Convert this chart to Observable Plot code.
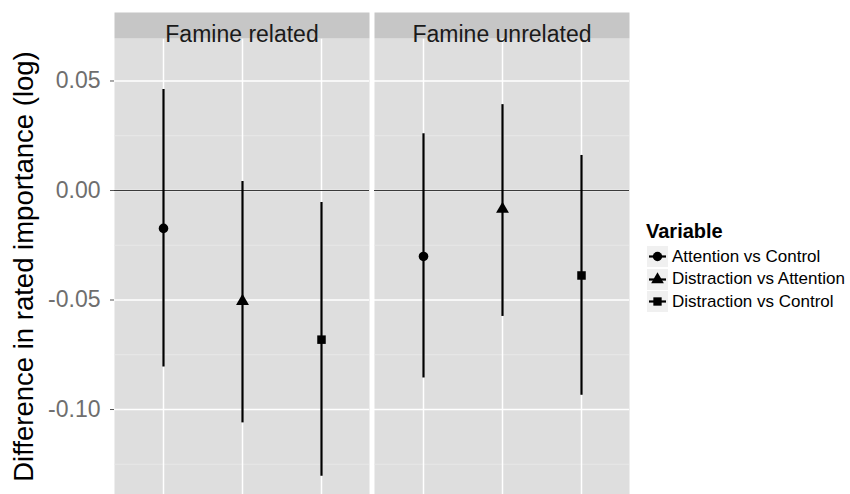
<!DOCTYPE html>
<html><head><meta charset="utf-8">
<script src="https://cdn.jsdelivr.net/npm/d3@7"></script>
<script src="https://cdn.jsdelivr.net/npm/@observablehq/plot@0.6"></script>
<style>
body{margin:0;background:#fff;font-family:"Liberation Sans",Arial,Helvetica,sans-serif;}
#wrap{position:relative;width:850px;height:494px;overflow:hidden;}
.lg{position:absolute;white-space:nowrap;color:#000;}
</style></head><body><div id="wrap"></div>
<script>
// ---- data ----
const panels = ["Famine related", "Famine unrelated"];
const variables = ["Attention vs Control", "Distraction vs Attention", "Distraction vs Control"];
const symbols = ["circle", "triangle", "square"];
const estRelated = [-0.0173, -0.0506, -0.0681];
const lowRelated = [-0.0806, -0.1061, -0.1305];
const highRelated = [0.0461, 0.0041, -0.0055];
const estUnrelated = [-0.0301, -0.0085, -0.0388];
const lowUnrelated = [-0.0856, -0.0575, -0.0935];
const highUnrelated = [0.0259, 0.0392, 0.0160];
const yTicks = [-0.10, -0.05, 0.00, 0.05];
const yMinorTicks = [-0.125, -0.075, -0.025, 0.025];
const yDomain = [-0.1388, 0.0694];
const yLabel = "Difference in rated importance (log)";
const legendTitle = "Variable";

const est = [estRelated, estUnrelated];
const low = [lowRelated, lowUnrelated];
const high = [highRelated, highUnrelated];
const rows = [];
panels.forEach((p, i) => variables.forEach((v, j) => rows.push({
  panel: p, variable: v, est: est[i][j], lo: low[i][j], hi: high[i][j]
})));

const font = "'Liberation Sans', Arial, Helvetica, sans-serif";

const chart = Plot.plot({
  width: 850, height: 494,
  marginTop: 38, marginBottom: 0, marginLeft: 114, marginRight: 220,
  style: {fontFamily: font, background: "white", overflow: "visible"},
  fx: {domain: panels, paddingInner: 0.0192, paddingOuter: 0, axis: null, label: null},
  x: {type: "point", domain: variables, padding: 0.6, axis: null},
  y: {domain: yDomain, axis: null},
  symbol: {domain: variables, range: symbols},
  marks: [
    Plot.frame({fill: "#dedede"}),
    Plot.gridY(yMinorTicks, {stroke: "#ebebeb", strokeOpacity: 1, strokeWidth: 0.8}),
    Plot.gridY(yTicks, {stroke: "white", strokeOpacity: 1, strokeWidth: 1.5}),
    Plot.gridX({stroke: "white", strokeOpacity: 1, strokeWidth: 1.5}),
    Plot.ruleY([0], {stroke: "#3a3a3a", strokeWidth: 1}),
    Plot.frame({fill: "#c6c6c6", insetTop: -26, insetBottom: 456}),
    Plot.ruleX(rows, {fx: "panel", x: "variable", y1: "lo", y2: "hi", stroke: "black", strokeWidth: 2.2}),
    Plot.dot(rows, {fx: "panel", x: "variable", y: "est", symbol: "variable", fill: "black", stroke: "none", r: 4.8}),
    Plot.text(panels, {fx: d => d, text: d => d, frameAnchor: "top", dy: -13, fontSize: 23, fill: "#1a1a1a"}),
    Plot.axisY(yTicks, {tickFormat: d => d.toFixed(2), fontSize: 23, fill: "#6e6e6e", stroke: "#555", tickSize: 4, tickPadding: 10, label: null}),
    Plot.axisY({ticks: [], label: yLabel, labelAnchor: "center", labelArrow: "none", labelOffset: 101, fontSize: 27.5, fill: "black"})
  ]
});
const wrap = document.getElementById("wrap");
wrap.appendChild(chart);

// ---- legend (HTML overlay on the right) ----
const W = d3.select(wrap);
W.append("div").attr("class", "lg").text(legendTitle)
  .style("left", "646px").style("top", "221px")
  .style("font-size", "20px").style("font-weight", "bold").style("line-height", "20px");
const symMap = {circle: d3.symbolCircle, triangle: d3.symbolTriangle, square: d3.symbolSquare};
variables.forEach((v, i) => {
  const cy = 256.7 + i * 22.5;
  const row = W.append("div").attr("class", "lg")
    .style("left", "647px").style("top", (cy - 11) + "px").style("height", "22px")
    .style("display", "flex").style("align-items", "center");
  const s = row.append("svg").attr("width", 21).attr("height", 21).style("display", "block");
  s.append("rect").attr("width", 21).attr("height", 21).attr("fill", "#f0f0f0");
  s.append("line").attr("x1", 2).attr("x2", 19).attr("y1", 10.5).attr("y2", 10.5)
    .attr("stroke", "black").attr("stroke-width", 2.2);
  s.append("path").attr("transform", "translate(10.5,10.5)")
    .attr("d", d3.symbol(symMap[symbols[i]], Math.PI * 4.7 * 4.7)()).attr("fill", "black");
  row.append("span").text(v).style("font-size", "17px").style("margin-left", "4px")
    .style("font-family", font);
});
</script></body></html>
